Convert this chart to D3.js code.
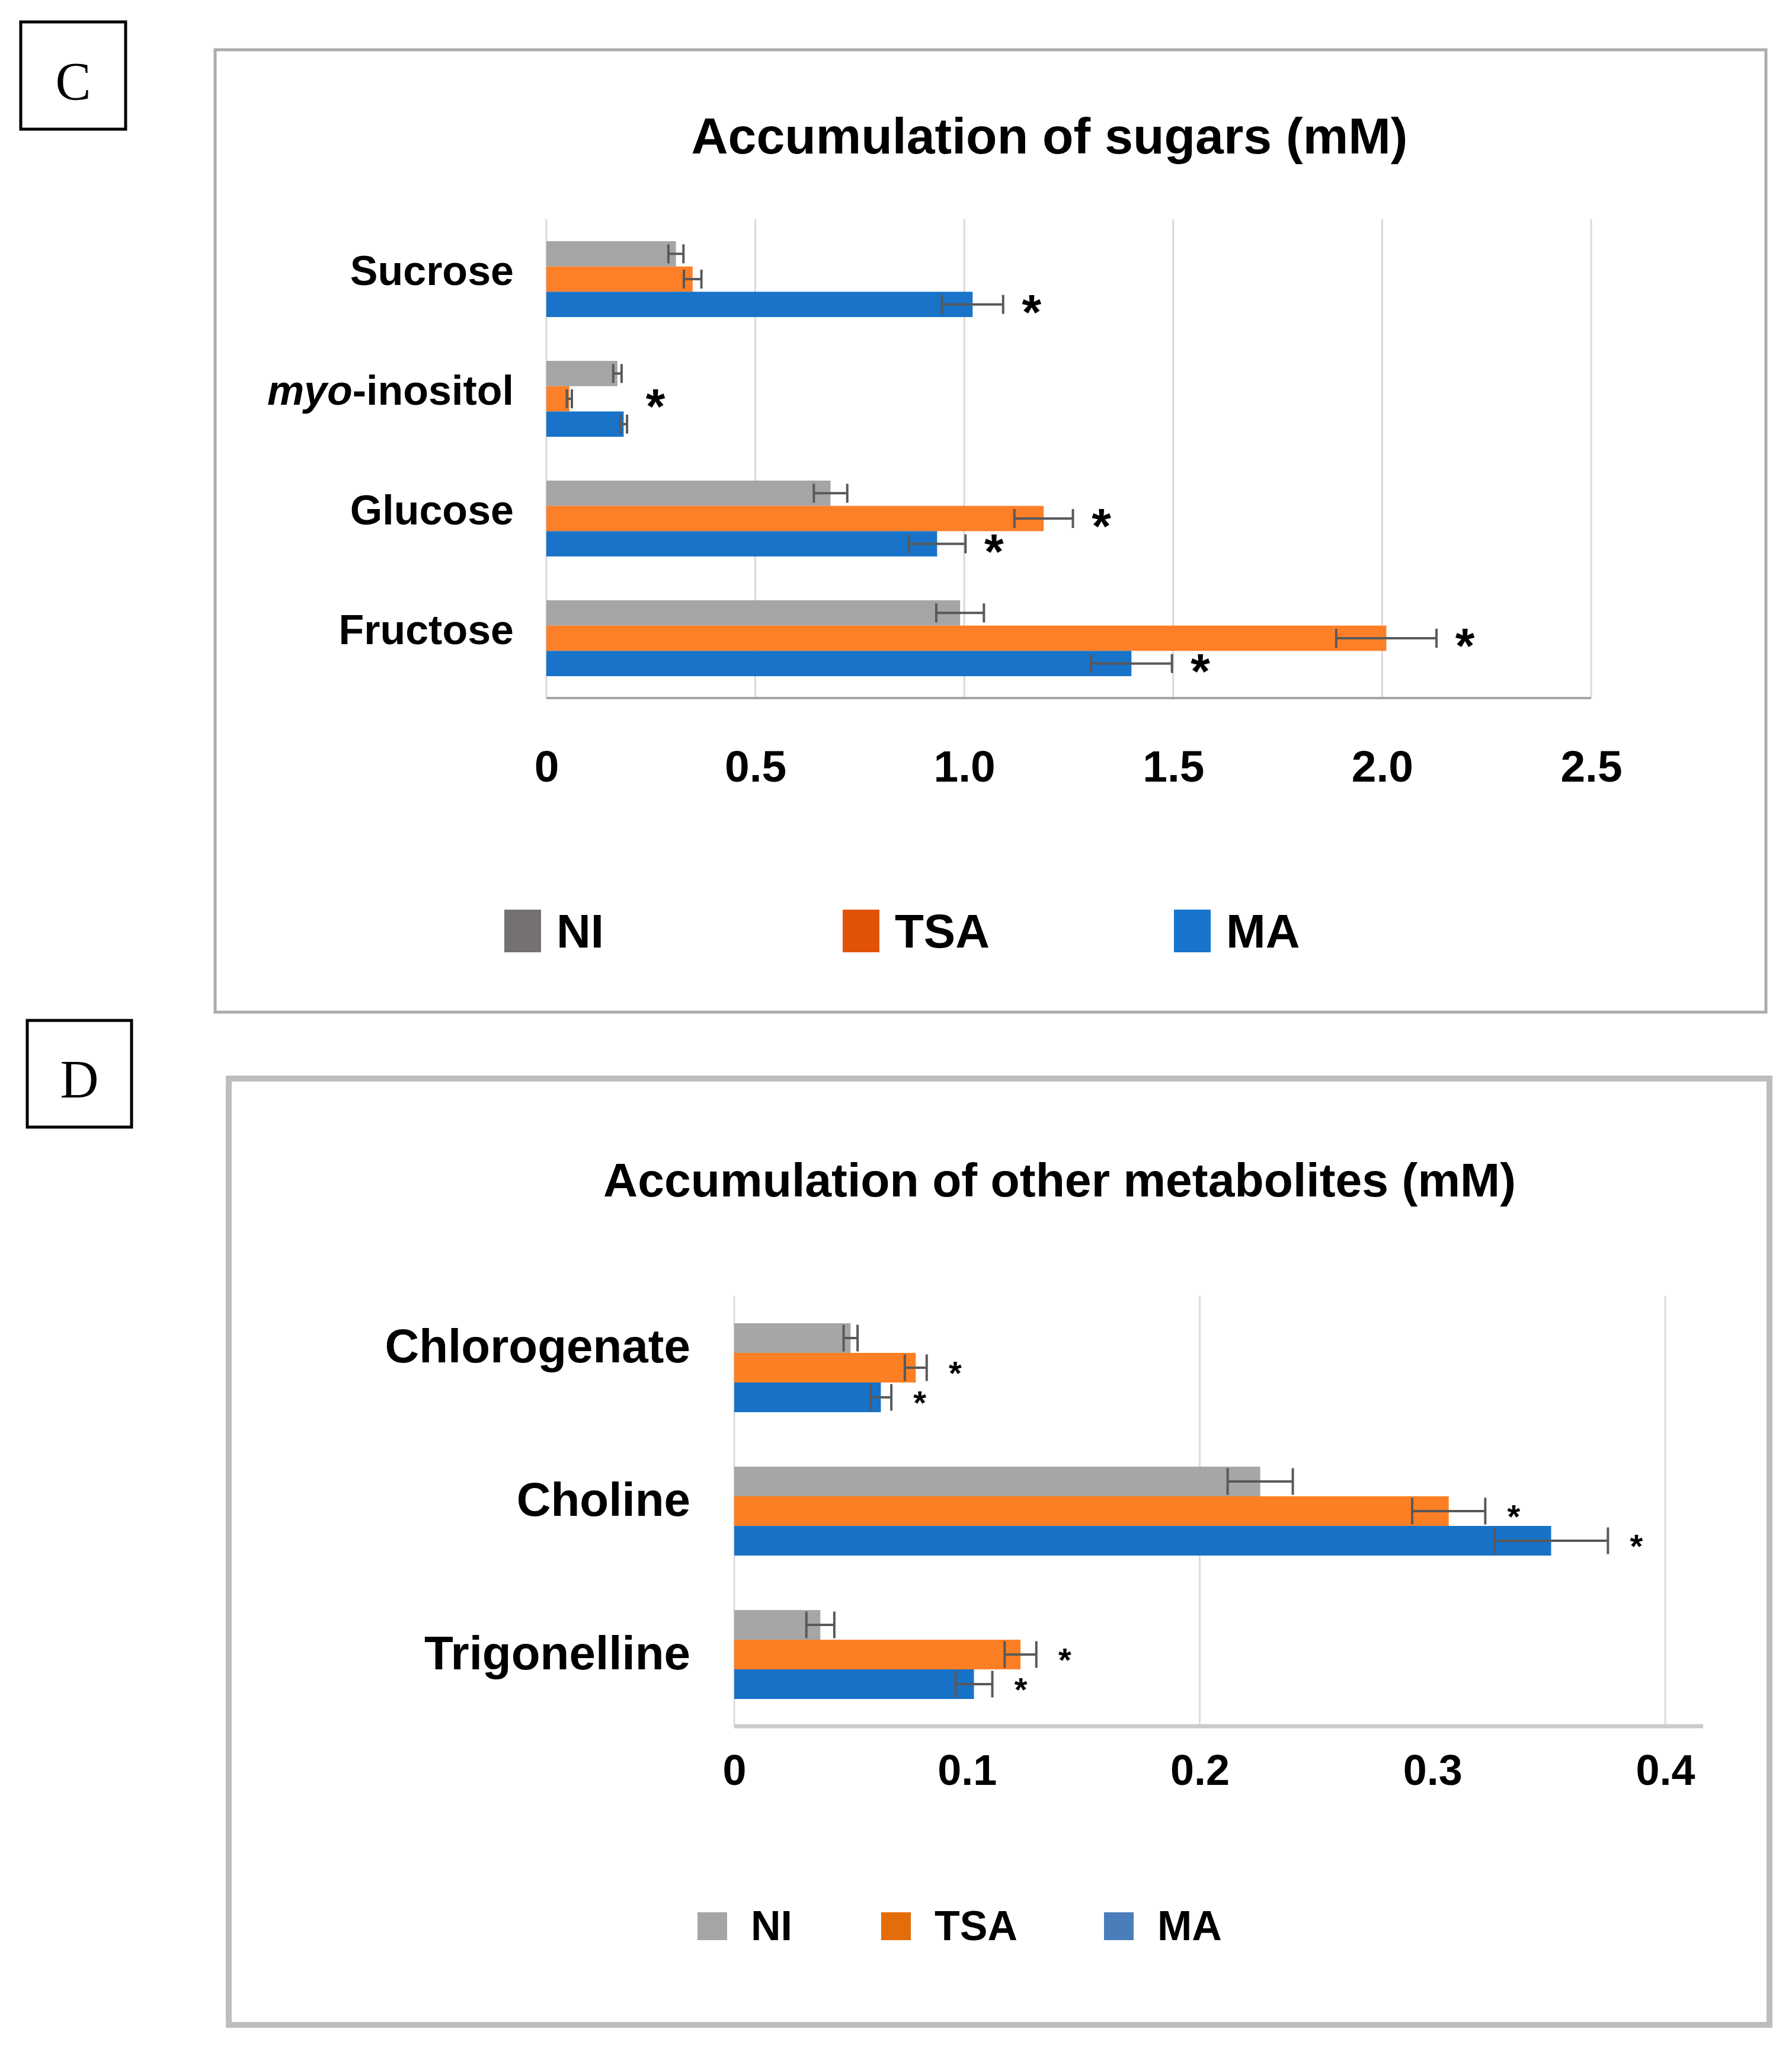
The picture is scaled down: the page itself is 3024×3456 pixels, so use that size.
<!DOCTYPE html>
<html>
<head>
<meta charset="utf-8">
<script src="https://cdn.jsdelivr.net/npm/d3@7"></script>
<style>
  body { margin: 0; background: #fff; }
  svg { display: block; }
  .sans { font-family: "Liberation Sans", Arial, "Noto Sans", sans-serif; font-weight: bold; }
  .serif { font-family: "Liberation Serif", "DejaVu Serif", serif; }
</style>
</head>
<body>
<svg id="chart"></svg>
<script>
// ---- data ----
const series = ['NI', 'TSA', 'MA'];

// panel C: sugars (mM)
const sugarCats = ['Sucrose', 'myo-inositol', 'Glucose', 'Fructose'];
const sugarNI = [0.31, 0.17, 0.68, 0.99];
const sugarNIerr = [0.018, 0.010, 0.040, 0.057];
const sugarTSA = [0.35, 0.055, 1.19, 2.01];
const sugarTSAerr = [0.021, 0.006, 0.070, 0.120];
const sugarMA = [1.02, 0.185, 0.935, 1.40];
const sugarMAerr = [0.073, 0.008, 0.068, 0.097];
const sugarTicks = [0, 0.5, 1.0, 1.5, 2.0, 2.5];
const sugarTickLabels = ['0', '0.5', '1.0', '1.5', '2.0', '2.5'];
// significance marks: [category, series]; 'group' = after the whole group, level with TSA
const sugarStars = [['Sucrose', 'MA'], ['myo-inositol', 'group'], ['Glucose', 'TSA'], ['Glucose', 'MA'], ['Fructose', 'TSA'], ['Fructose', 'MA']];

// panel D: other metabolites (mM)
const otherCats = ['Chlorogenate', 'Choline', 'Trigonelline'];
const otherNI = [0.050, 0.226, 0.037];
const otherNIerr = [0.003, 0.014, 0.006];
const otherTSA = [0.078, 0.307, 0.123];
const otherTSAerr = [0.0047, 0.0157, 0.0068];
const otherMA = [0.063, 0.351, 0.103];
const otherMAerr = [0.0045, 0.0244, 0.0079];
const otherTicks = [0, 0.1, 0.2, 0.3, 0.4];
const otherTickLabels = ['0', '0.1', '0.2', '0.3', '0.4'];
const otherGrid = [0, 0.2, 0.4];
const otherStars = [['Chlorogenate', 'TSA'], ['Chlorogenate', 'MA'], ['Choline', 'TSA'], ['Choline', 'MA'], ['Trigonelline', 'TSA'], ['Trigonelline', 'MA']];

const W = 3024, H = 3456;
const svg = d3.select('#chart').attr('width', W).attr('height', H);

function rows(cats, ni, niE, tsa, tsaE, ma, maE) {
  const out = [];
  cats.forEach((c, i) => {
    out.push({ cat: c, s: 'NI', v: ni[i], e: niE[i] });
    out.push({ cat: c, s: 'TSA', v: tsa[i], e: tsaE[i] });
    out.push({ cat: c, s: 'MA', v: ma[i], e: maE[i] });
  });
  return out;
}

function panel(o) {
  const g = svg.append('g');

  // frame + panel letter
  g.append('rect').attr('x', o.frame[0]).attr('y', o.frame[1])
    .attr('width', o.frame[2] - o.frame[0]).attr('height', o.frame[3] - o.frame[1])
    .attr('fill', 'none').attr('stroke', o.frameColor).attr('stroke-width', o.frameWidth);
  g.append('rect').attr('x', o.box[0]).attr('y', o.box[1])
    .attr('width', o.box[2] - o.box[0]).attr('height', o.box[3] - o.box[1])
    .attr('fill', 'none').attr('stroke', '#000').attr('stroke-width', 5);
  g.append('text').attr('class', 'serif')
    .attr('x', (o.box[0] + o.box[2]) / 2).attr('y', (o.box[1] + o.box[3]) / 2 + 40)
    .attr('text-anchor', 'middle').attr('font-size', 90).text(o.letter);

  g.append('text').attr('class', 'sans')
    .attr('x', o.titleX).attr('y', o.titleY).attr('text-anchor', 'middle')
    .attr('font-size', o.titleSize).attr('textLength', o.titleLen).attr('lengthAdjust', 'spacingAndGlyphs')
    .text(o.title);

  const x = d3.scaleLinear().domain(o.xDomain).range(o.xRange);
  const y = d3.scaleBand().domain(o.cats).range(o.yRange).paddingInner(o.pad).paddingOuter(o.pad / 2);
  const ys = d3.scaleBand().domain(series).range([0, y.bandwidth()]);
  const yl = d3.scaleBand().domain(o.cats).range(o.labelRange).paddingInner(o.pad).paddingOuter(o.pad / 2);
  const data = rows(o.cats, ...o.vals);

  // gridlines
  g.append('g').selectAll('line').data(o.grid).join('line')
    .attr('x1', d => x(d)).attr('x2', d => x(d))
    .attr('y1', o.yRange[0]).attr('y2', o.yRange[1])
    .attr('stroke', o.gridColor).attr('stroke-width', 3);

  // bars
  g.append('g').selectAll('rect').data(data).join('rect')
    .attr('x', x(0)).attr('y', d => y(d.cat) + ys(d.s))
    .attr('width', d => x(d.v) - x(0)).attr('height', ys.bandwidth())
    .attr('fill', d => o.barColors[d.s]);

  // error bars
  const cap = ys.bandwidth() * o.capFrac;
  const eb = g.append('g').attr('stroke', '#595959').attr('stroke-width', 4);
  data.forEach(d => {
    const cy = y(d.cat) + ys(d.s) + ys.bandwidth() / 2;
    eb.append('line').attr('x1', x(d.v - d.e)).attr('x2', x(d.v + d.e)).attr('y1', cy).attr('y2', cy);
    [d.v - d.e, d.v + d.e].forEach(v => {
      eb.append('line').attr('x1', x(v)).attr('x2', x(v)).attr('y1', cy - cap / 2).attr('y2', cy + cap / 2);
    });
  });

  // value axis line
  g.append('line').attr('x1', x(0)).attr('x2', o.axisEnd)
    .attr('y1', o.yRange[1]).attr('y2', o.yRange[1])
    .attr('stroke', o.axisColor).attr('stroke-width', o.axisWidth);

  // significance stars
  o.stars.forEach(([c, s]) => {
    const grp = data.filter(d => d.cat === c);
    const ref = s === 'group' ? grp.find(d => d.s === 'TSA') : grp.find(d => d.s === s);
    const right = s === 'group' ? d3.max(grp, d => d.v + d.e) : ref.v + ref.e;
    const cy = y(c) + ys(ref.s) + ys.bandwidth() / 2;
    g.append('text').attr('class', 'sans')
      .attr('x', x(right) + o.starGap).attr('y', cy + o.starSize * 0.5)
      .attr('text-anchor', 'middle').attr('font-size', o.starSize).text('*');
  });

  // axes
  const xa = g.append('g').attr('transform', `translate(0,${o.yRange[1]})`)
    .call(d3.axisBottom(x).tickValues(o.ticks).tickSize(0).tickPadding(o.tickPad)
      .tickFormat((d, i) => o.tickLabels[i]));
  xa.select('.domain').remove();
  xa.selectAll('text').attr('class', 'sans').attr('font-size', o.tickSize).attr('fill', '#000');

  const ya = g.append('g').attr('transform', `translate(${x(0)},0)`)
    .call(d3.axisLeft(yl).tickSize(0).tickPadding(o.catPad));
  ya.select('.domain').remove();
  ya.selectAll('text').attr('class', 'sans').attr('font-size', o.catSize).attr('fill', '#000')
    .attr('dy', o.catDy)
    .each(function (d) {
      if (d.startsWith('myo-')) {
        const t = d3.select(this).text('');
        t.append('tspan').attr('font-style', 'italic').text('myo');
        t.append('tspan').text(d.slice(3));
      }
    });

  // legend
  series.forEach((s, i) => {
    const lx = o.legX[i];
    g.append('rect').attr('x', lx).attr('y', o.legY)
      .attr('width', o.legBox[0]).attr('height', o.legBox[1]).attr('fill', o.legColors[s]);
    g.append('text').attr('class', 'sans')
      .attr('x', lx + o.legBox[0] + o.legGap).attr('y', o.legY + o.legBox[1] - o.legBase)
      .attr('font-size', o.legSize).text(s);
  });
}

panel({
  letter: 'C', box: [35, 37, 212, 218],
  frame: [363, 84, 2980, 1708], frameColor: '#ABABAB', frameWidth: 5,
  title: 'Accumulation of sugars (mM)', titleX: 1771, titleY: 259, titleSize: 86, titleLen: 1209,
  cats: sugarCats, vals: [sugarNI, sugarNIerr, sugarTSA, sugarTSAerr, sugarMA, sugarMAerr],
  xDomain: [0, 2.5], xRange: [922, 2685], yRange: [370, 1178], labelRange: [370, 1178], pad: 0.366,
  grid: sugarTicks, gridColor: '#D9D9D9', axisColor: '#A6A6A6', axisWidth: 4, axisEnd: 2685,
  barColors: { NI: '#A5A5A5', TSA: '#FD7F28', MA: '#1873C9' }, capFrac: 0.75,
  stars: sugarStars, starGap: 48, starSize: 84,
  ticks: sugarTicks, tickLabels: sugarTickLabels, tickPad: 88, tickSize: 75,
  catPad: 55, catSize: 70, catDy: '0.14em',
  legX: [851, 1422, 1981], legY: 1535, legBox: [62, 72], legGap: 26, legBase: 8, legSize: 80,
  legColors: { NI: '#767171', TSA: '#E05206', MA: '#1874CD' }
});

panel({
  letter: 'D', box: [46, 1722, 222, 1902],
  frame: [386, 1820, 2986, 3417], frameColor: '#BEBEBE', frameWidth: 10,
  title: 'Accumulation of other metabolites (mM)', titleX: 1788, titleY: 2019, titleSize: 80, titleLen: 1540,
  cats: otherCats, vals: [otherNI, otherNIerr, otherTSA, otherTSAerr, otherMA, otherMAerr],
  xDomain: [0, 0.4], xRange: [1239, 2810], yRange: [2187, 2913], labelRange: [2170, 2946], pad: 0.38,
  grid: otherGrid, gridColor: '#DCDCDC', axisColor: '#CBCBCB', axisWidth: 7, axisEnd: 2874,
  barColors: { NI: '#A6A6A6', TSA: '#FD7F24', MA: '#1872C8' }, capFrac: 0.9,
  stars: otherStars, starGap: 48, starSize: 56,
  ticks: otherTicks, tickLabels: otherTickLabels, tickPad: 48, tickSize: 72,
  catPad: 74, catSize: 80, catDy: '0em',
  legX: [1177, 1487, 1863], legY: 3227, legBox: [50, 47], legGap: 40, legBase: 0, legSize: 70,
  legColors: { NI: '#A5A5A5', TSA: '#E46C0A', MA: '#4A7EBB' }
});
</script>
</body>
</html>
